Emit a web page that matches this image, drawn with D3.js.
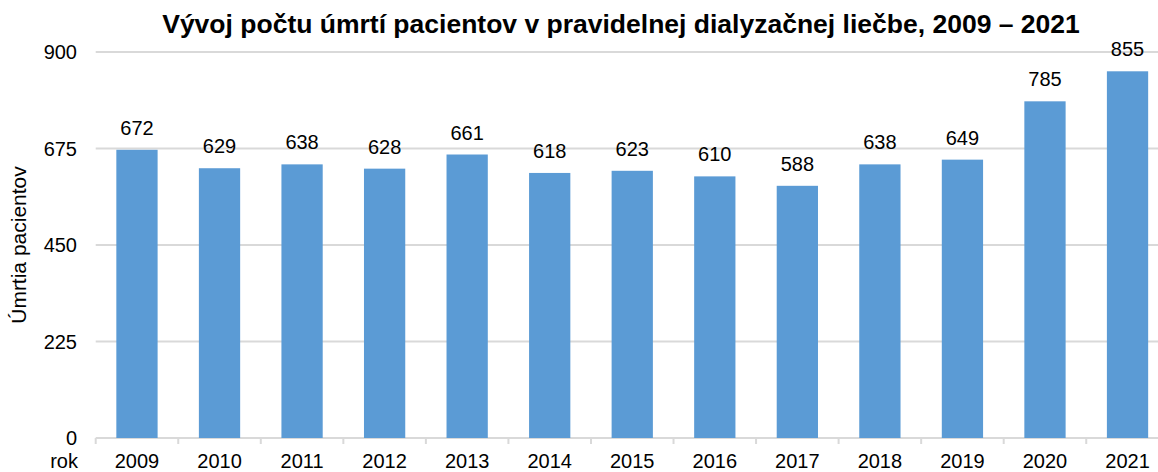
<!DOCTYPE html>
<html><head><meta charset="utf-8">
<script src="https://cdn.jsdelivr.net/npm/d3@7"></script>
<style>body{margin:0;background:#fff}svg{display:block}text{font-family:"Liberation Sans",Arial,sans-serif}</style>
</head><body>
<svg id="c" width="1158" height="472"></svg>
<script>
const categories = ["2009","2010","2011","2012","2013","2014","2015","2016","2017","2018","2019","2020","2021"];
const values = [672,629,638,628,661,618,623,610,588,638,649,785,855];
const yTicks = [0,225,450,675,900];
const title = "Vývoj počtu úmrtí pacientov v pravidelnej dialyzačnej liečbe, 2009 – 2021";
const yLabel = "Úmrtia pacientov";
const xLabel = "rok";

(function () {
const svg = d3.select("#c");
const pl = 95.7, pr = 1168.8, pt = 52, pb = 438;
const x = d3.scaleBand().domain(categories).range([pl, pr]).paddingInner(0.5).paddingOuter(0.25);
const y = d3.scaleLinear().domain([0, 900]).range([pb, pt]);

svg.append("g").selectAll("line").data(yTicks).join("line")
  .attr("x1", pl).attr("x2", 1158)
  .attr("y1", d => y(d)).attr("y2", d => y(d))
  .attr("stroke", "#d9d9d9").attr("stroke-width", 2);

svg.append("g").selectAll("text").data(yTicks).join("text")
  .attr("x", 77).attr("y", d => y(d)).attr("dy", "0.35em")
  .attr("text-anchor", "end").attr("font-size", 20).attr("fill", "#000")
  .text(d => d);

svg.append("g").selectAll("rect").data(values).join("rect")
  .attr("x", (d, i) => x(categories[i]))
  .attr("width", x.bandwidth())
  .attr("y", d => y(d))
  .attr("height", d => y(0) - y(d))
  .attr("fill", "#5b9bd5");

svg.append("g").selectAll("text").data(values).join("text")
  .attr("x", (d, i) => x(categories[i]) + x.bandwidth() / 2)
  .attr("y", d => y(d) - 15)
  .attr("text-anchor", "middle").attr("font-size", 20).attr("fill", "#000")
  .text(d => d);

const step = x.step();
const bounds = categories.map((c, i) => pl + i * step).concat([pl + categories.length * step]);
svg.append("g").selectAll("line").data(bounds).join("line")
  .attr("x1", d => d).attr("x2", d => d)
  .attr("y1", pb).attr("y2", pb + 6)
  .attr("stroke", "#d9d9d9").attr("stroke-width", 2);

svg.append("g").selectAll("text").data(categories).join("text")
  .attr("x", d => x(d) + x.bandwidth() / 2)
  .attr("y", 468)
  .attr("text-anchor", "middle").attr("font-size", 20).attr("fill", "#000")
  .text(d => d);

svg.append("text").attr("x", 78).attr("y", 468).attr("text-anchor", "end")
  .attr("font-size", 20).text(xLabel);

svg.append("text").attr("transform", "translate(26,245) rotate(-90)")
  .attr("text-anchor", "middle").attr("font-size", 21).text(yLabel);

svg.append("text").attr("x", 621).attr("y", 33).attr("text-anchor", "middle")
  .attr("font-size", 26.5).attr("font-weight", "bold").text(title);
})();
</script>
</body></html>
